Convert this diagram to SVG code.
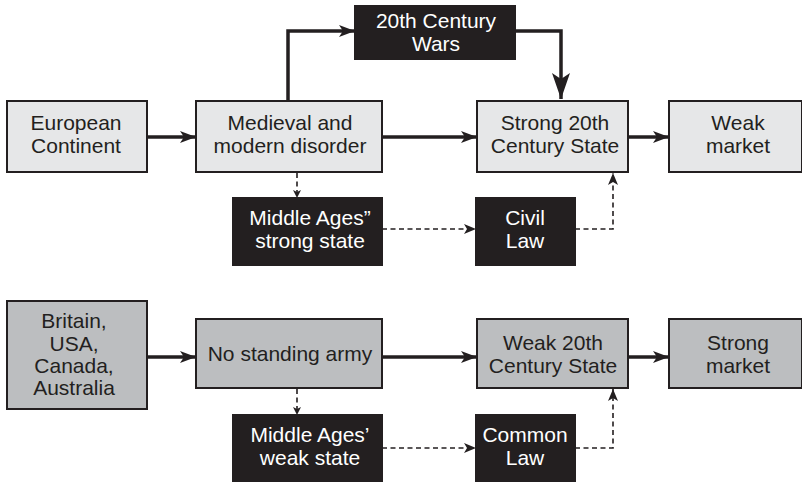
<svg xmlns="http://www.w3.org/2000/svg" width="802" height="483" viewBox="0 0 802 483">
<style>
.light{fill:#e6e7e8;stroke:#231f20;stroke-width:2}
.mid{fill:#bcbec0;stroke:#231f20;stroke-width:2}
.dark{fill:#231f20;stroke:#231f20;stroke-width:2}
text{font-family:"Liberation Sans",Arial,sans-serif;font-size:21px;text-anchor:middle}
.tl{fill:#231f20}
.tw{fill:#ffffff}
.thick{fill:none;stroke:#231f20;stroke-width:3.5}
.dash{fill:none;stroke:#231f20;stroke-width:1.6;stroke-dasharray:5 3.5}
</style>
<defs>
<marker id="ah" markerUnits="userSpaceOnUse" markerWidth="18" markerHeight="14" refX="16" refY="6" orient="auto">
<path d="M0,0 L16,6 L0,12 L4,6 z" fill="#231f20"/>
</marker>
<marker id="ahBig" markerUnits="userSpaceOnUse" markerWidth="28" markerHeight="20" refX="26" refY="9" orient="auto">
<path d="M0,0 L26,9 L0,18 L6,9 z" fill="#231f20"/>
</marker>
<marker id="ahd" markerUnits="userSpaceOnUse" markerWidth="14" markerHeight="12" refX="12" refY="5" orient="auto">
<path d="M0,0 L12,5 L0,10 L3,5 z" fill="#231f20"/>
</marker>
<marker id="ahs" markerUnits="userSpaceOnUse" markerWidth="10" markerHeight="10" refX="8" refY="4" orient="auto">
<path d="M0,0 L8,4 L0,8 L2,4 z" fill="#231f20"/>
</marker>
</defs>

<g id="connectors">
<line class="thick" x1="147" y1="137" x2="196" y2="137" marker-end="url(#ah)"/>
<line class="thick" x1="382" y1="137" x2="477" y2="137" marker-end="url(#ah)"/>
<line class="thick" x1="628" y1="137" x2="669" y2="137" marker-end="url(#ah)"/>
<polyline class="thick" points="288,100 288,31 355,31" marker-end="url(#ah)"/>
<polyline class="thick" points="515,31 561,31 561,99" marker-end="url(#ahBig)"/>
<line class="dash" x1="297" y1="173" x2="297" y2="198" marker-end="url(#ahs)"/>
<line class="dash" x1="382" y1="229" x2="476" y2="229" marker-end="url(#ahd)"/>
<polyline class="dash" points="575,229 613,229 613,173" marker-end="url(#ahd)"/>

<line class="thick" x1="147" y1="357" x2="196" y2="357" marker-end="url(#ah)"/>
<line class="thick" x1="382" y1="357" x2="477" y2="357" marker-end="url(#ah)"/>
<line class="thick" x1="628" y1="357" x2="669" y2="357" marker-end="url(#ah)"/>
<line class="dash" x1="297" y1="389" x2="297" y2="415" marker-end="url(#ahs)"/>
<line class="dash" x1="382" y1="448" x2="476" y2="448" marker-end="url(#ahd)"/>
<polyline class="dash" points="575,448 613,448 613,389" marker-end="url(#ahd)"/>
</g>

<g id="european">
<rect class="light" x="7" y="101" width="140" height="71"/>
<text class="tl" x="76" y="130">European</text>
<text class="tl" x="76" y="153">Continent</text>
</g>
<g id="medieval">
<rect class="light" x="196" y="101" width="186" height="71"/>
<text class="tl" x="290" y="130">Medieval and</text>
<text class="tl" x="290" y="153">modern disorder</text>
</g>
<g id="wars">
<rect class="dark" x="355" y="6" width="160" height="53"/>
<text class="tw" x="436" y="28">20th Century</text>
<text class="tw" x="436" y="51">Wars</text>
</g>
<g id="strong20">
<rect class="light" x="477" y="101" width="151" height="71"/>
<text class="tl" x="555" y="130">Strong 20th</text>
<text class="tl" x="555" y="153">Century State</text>
</g>
<g id="weakmarket">
<rect class="light" x="669" y="101" width="133" height="71"/>
<text class="tl" x="738" y="130">Weak</text>
<text class="tl" x="738" y="153">market</text>
</g>
<g id="mastrong">
<rect class="dark" x="233" y="198" width="149" height="67"/>
<text class="tw" x="310" y="225">Middle Ages”</text>
<text class="tw" x="310" y="248">strong state</text>
</g>
<g id="civillaw">
<rect class="dark" x="476" y="198" width="99" height="67"/>
<text class="tw" x="525" y="225">Civil</text>
<text class="tw" x="525" y="248">Law</text>
</g>

<g id="britain">
<rect class="mid" x="7" y="301" width="140" height="108"/>
<text class="tl" x="74" y="328">Britain,</text>
<text class="tl" x="74" y="351">USA,</text>
<text class="tl" x="74" y="373">Canada,</text>
<text class="tl" x="74" y="395">Australia</text>
</g>
<g id="nostanding">
<rect class="mid" x="196" y="319" width="186" height="69"/>
<text class="tl" x="290" y="361">No standing army</text>
</g>
<g id="weak20">
<rect class="mid" x="477" y="319" width="151" height="69"/>
<text class="tl" x="553" y="350">Weak 20th</text>
<text class="tl" x="553" y="373">Century State</text>
</g>
<g id="strongmarket">
<rect class="mid" x="669" y="319" width="133" height="69"/>
<text class="tl" x="738" y="350">Strong</text>
<text class="tl" x="738" y="373">market</text>
</g>
<g id="maweak">
<rect class="dark" x="233" y="415" width="149" height="66"/>
<text class="tw" x="310" y="442">Middle Ages’</text>
<text class="tw" x="310" y="465">weak state</text>
</g>
<g id="commonlaw">
<rect class="dark" x="476" y="415" width="99" height="66"/>
<text class="tw" x="525" y="442">Common</text>
<text class="tw" x="525" y="465">Law</text>
</g>
</svg>
